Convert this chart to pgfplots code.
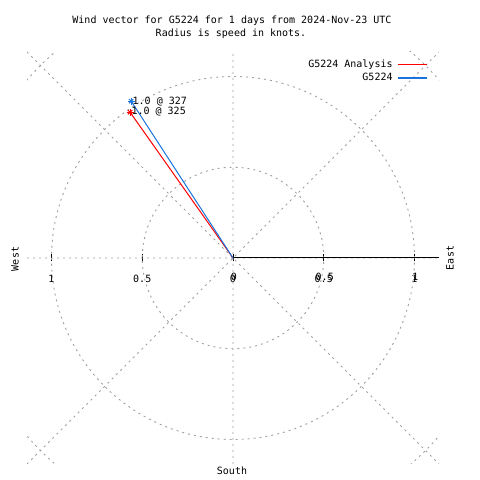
\documentclass[border=0pt]{standalone}
\usepackage{fontspec}
\setmainfont{DejaVu Sans Mono}
\usepackage{pgfplots}
\pgfplotsset{compat=1.18}
\definecolor{gridgray}{RGB}{160,160,160}
\definecolor{gblue}{RGB}{24,116,220}
\begin{document}
\begin{tikzpicture}[font=\fontsize{10bp}{12bp}\selectfont]
\useasboundingbox (0bp,0bp) rectangle (480bp,480bp);
\begin{axis}[
  at={(27bp,16bp)}, anchor=south west,
  scale only axis, width=412bp, height=412bp,
  xmin=-1.135, xmax=1.135, ymin=-1.135, ymax=1.135,
  axis x line=middle, axis y line=none,
  axis line style={draw=none},
  hide obscured x ticks=false,
  xtick={-1,-0.5,0,0.5,1},
  xticklabels={1,0.5,0,0.5,1},
  extra x ticks={0,0.5,1},
  extra x tick labels={0,0.5,1},
  extra x tick style={xticklabel style={xshift=1bp, yshift=2bp}},
  xticklabel style={anchor=base, yshift=-21bp, inner sep=0pt, font=\fontsize{10bp}{12bp}\selectfont},
  ytick=\empty,
  xtick style={black, line width=0.8bp},
  major tick length=7bp, tick align=center,
  legend style={draw=none, fill=none, at={(0.973,0.987)}, anchor=north east,
     inner sep=0pt, row sep=0pt, column sep=3bp,
     nodes={inner xsep=1.5bp, inner ysep=1.5bp, text height=8bp, text depth=2.5bp},
     font=\fontsize{10bp}{12bp}\selectfont},
  legend cell align=right,
  legend plot pos=right,
  legend image code/.code={\draw[#1, mark=none, line width=1.6bp] (0bp,0bp) -- (29bp,0bp);},
]
% polar grid
\draw[gridgray, line width=0.9bp, dash pattern=on 2bp off 4bp]
  (axis cs:-1.135,0) -- (axis cs:1.135,0)
  (axis cs:0,-1.135) -- (axis cs:0,1.135)
  (axis cs:-1.135,-1.135) -- (axis cs:1.135,1.135)
  (axis cs:-1.135,1.135) -- (axis cs:1.135,-1.135)
  (axis cs:0,0) circle [radius=0.5]
  (axis cs:0,0) circle [radius=1]
  (axis cs:0,0) circle [radius=1.5];
\draw[black, line width=1bp] (axis cs:0,0) -- (axis cs:1.135,0);
% data
\addplot[red, line width=1bp, mark=none] coordinates {(0,0) (-0.567,0.803)};
\addlegendentry{G5224 Analysis}
\addplot[gblue, line width=1bp, mark=none] coordinates {(0,0) (-0.561,0.864)};
\addlegendentry{G5224}
\addplot[red, only marks, mark=+, mark size=3.5bp, line width=1bp, forget plot] coordinates {(-0.567,0.803)};
\addplot[red, only marks, mark=x, mark size=3bp, line width=1bp, forget plot,
  nodes near coords, point meta=explicit symbolic,
  every node near coord/.append style={text=black, anchor=base west, xshift=1bp, yshift=-2.5bp, inner sep=0pt}]
  coordinates {(-0.567,0.803) [1.0 @ 325]};
\addplot[gblue, only marks, mark=+, mark size=3.5bp, line width=1bp, forget plot] coordinates {(-0.561,0.864)};
\addplot[gblue, only marks, mark=x, mark size=3bp, line width=1bp, forget plot,
  nodes near coords, point meta=explicit symbolic,
  every node near coord/.append style={text=black, anchor=base west, xshift=1bp, yshift=-3bp, inner sep=0pt}]
  coordinates {(-0.561,0.864) [1.0 @ 327]};
\end{axis}
% titles and direction labels
\node[anchor=base, inner sep=0pt] at (232bp,456bp) {Wind vector for G5224 for 1 days from 2024-Nov-23 UTC};
\node[anchor=base, inner sep=0pt] at (231bp,443bp) {Radius is speed in knots.};
\node[rotate=90, inner sep=0pt] at (15bp,221bp) {West};
\node[rotate=90, inner sep=0pt] at (450bp,222bp) {East};
\node[inner sep=0pt] at (232bp,9bp) {South};
\end{tikzpicture}
\end{document}
